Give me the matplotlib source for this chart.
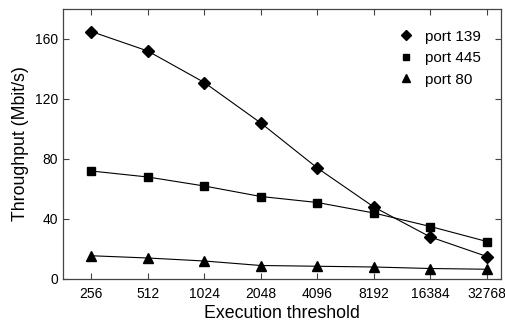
import matplotlib
matplotlib.use("Agg")
import matplotlib.pyplot as plt

plt.rcParams['font.family'] = ['Liberation Sans', 'DejaVu Sans']

categories = ["256", "512", "1024", "2048", "4096", "8192", "16384", "32768"]
port139 = [165, 152, 131, 104, 74, 48, 28, 15]
port445 = [72, 68, 62, 55, 51, 44, 35, 25]
port80 = [15.5, 14, 12, 9, 8.5, 8, 7, 6.5]

fig = plt.figure(figsize=(5.05, 3.24), dpi=100)
ax = fig.add_axes([63/505, 1 - 279/324, (501-63)/505, (279-9)/324])
x = list(range(len(categories)))
lw = 0.8
ax.plot(x, port139, color='black', lw=lw, marker='D', ms=6)
ax.plot(x, port445, color='black', lw=lw, marker='s', ms=6)
ax.plot(x, port80, color='black', lw=lw, marker='^', ms=7)

# legend with markers only
h1, = ax.plot([], [], ls='none', marker='D', color='black', ms=5)
h2, = ax.plot([], [], ls='none', marker='s', color='black', ms=5)
h3, = ax.plot([], [], ls='none', marker='^', color='black', ms=6)
ax.legend([h1, h2, h3], ["port 139", "port 445", "port 80"], frameon=False,
          loc='upper right', bbox_to_anchor=(0.985, 0.975), fontsize=11,
          handlelength=1.0, handletextpad=0.7, labelspacing=0.5)

ax.set_xlim(-0.5, 7.25)
ax.set_ylim(0, 180)
ax.set_xticks(x)
ax.set_xticklabels(categories)
ax.set_yticks([0, 40, 80, 120, 160])
ax.tick_params(direction='in', top=True, right=True, labelsize=10, length=4,
               width=0.8, color='#444444')
ax.tick_params(axis='x', pad=6)
for s in ax.spines.values():
    s.set_linewidth(0.9)
    s.set_color('#444444')
ax.set_xlabel("Execution threshold", fontsize=12.8, labelpad=3)
ax.set_ylabel("Throughput (Mbit/s)", fontsize=12.8, labelpad=4)

fig.savefig("out.png", dpi=100)
